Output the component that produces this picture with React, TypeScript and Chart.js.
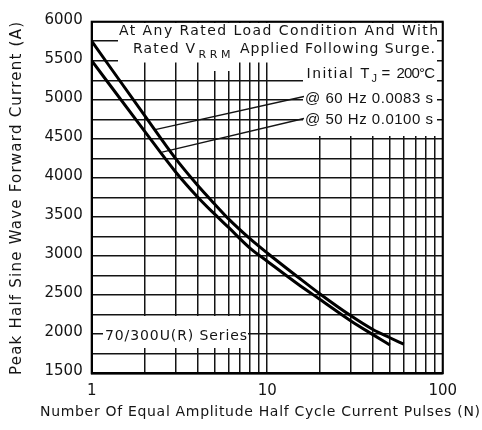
import React, { useEffect, useRef } from 'react';
import { Chart, registerables } from 'chart.js';

Chart.register(...registerables);

// ---- data ----
const pulsesN60 = [1, 2, 3, 4, 5, 6, 8, 10, 15, 20, 30, 40, 50, 60];
const current60 = [5750, 4800, 4250, 3910, 3670, 3480, 3220, 3040, 2730, 2515, 2235, 2060, 1955, 1872];
const pulsesN50 = [1, 2, 3, 4, 5, 6, 8, 10, 15, 20, 30, 40, 50];
const current50 = [5500, 4600, 4080, 3760, 3540, 3370, 3100, 2935, 2640, 2445, 2170, 1995, 1862];

const xTickValues = [1, 2, 3, 4, 5, 6, 7, 8, 9, 10, 20, 30, 40, 50, 60, 70, 80, 90, 100];
const xTickLabels = ['1', '10', '100'];
const yMin = 1500;
const yMax = 6000;
const yGridStep = 250;
const yLabelStep = 500;

const leader60 = { n: 2.3, a: 4620 };
const leader50 = { n: 2.52, a: 4330 };

const xTitle = 'Number Of Equal Amplitude Half Cycle Current Pulses (N)';
const yTitle = 'Peak Half Sine Wave Forward Current (A)';

const FAM = '"DejaVu Sans", sans-serif';
const FAM2 = '"Liberation Sans", Arial, sans-serif';
const INK = '#141414';

function drawFit(ctx: CanvasRenderingContext2D, text: string, x: number, y: number, width: number, size: number, fam: string = FAM) {
  ctx.font = `${size}px ${fam}`;
  (ctx as any).letterSpacing = '0px';
  const w = ctx.measureText(text).width;
  const n = Math.max(text.length - 1, 1);
  const ls = (width - w) / n;
  (ctx as any).letterSpacing = `${ls}px`;
  ctx.textAlign = 'left';
  ctx.textBaseline = 'alphabetic';
  ctx.fillText(text, x, y);
  (ctx as any).letterSpacing = '0px';
}

const annotPlugin = {
  id: 'annot',
  beforeDatasetsDraw(chart: any) {
    const ctx: CanvasRenderingContext2D = chart.ctx;
    const xs = chart.scales.x;
    const ys = chart.scales.y;
    ctx.save();
    // white boxes covering the grid
    ctx.fillStyle = '#ffffff';
    ctx.fillRect(118, 23, 437 - 118, 62.5 - 23);
    ctx.fillRect(199, 62, 34, 9);
    ctx.fillRect(303, 62, 134, 136 - 62);
    ctx.fillRect(103, 316, 145, 32);

    // leader lines
    ctx.strokeStyle = INK;
    ctx.lineWidth = 1.3;
    ctx.beginPath();
    ctx.moveTo(304, 96.5);
    ctx.lineTo(xs.getPixelForValue(leader60.n), ys.getPixelForValue(leader60.a));
    ctx.moveTo(304, 118.5);
    ctx.lineTo(xs.getPixelForValue(leader50.n), ys.getPixelForValue(leader50.a));
    ctx.stroke();

    ctx.fillStyle = INK;
    drawFit(ctx, 'At Any Rated Load Condition And With', 119, 35, 319, 14);
    drawFit(ctx, 'Rated V', 133, 53.3, 62, 14);
    drawFit(ctx, 'RRM', 198.5, 57.5, 32, 11);
    drawFit(ctx, 'Applied Following Surge.', 240, 53.3, 195, 14);

    drawFit(ctx, 'Initial T', 306.5, 77.5, 63, 15, FAM2);
    ctx.font = `11px ${FAM2}`;
    ctx.textAlign = 'left';
    ctx.fillText('J', 371.5, 81.5);
    ctx.font = `15px ${FAM2}`;
    ctx.fillText('=', 381.5, 77.5);
    drawFit(ctx, '200°C', 396.5, 77.5, 38.5, 15, FAM2);

    drawFit(ctx, '@ 60 Hz 0.0083 s', 305, 103.3, 128, 15, FAM2);
    drawFit(ctx, '@ 50 Hz 0.0100 s', 305, 124, 128, 15, FAM2);

    drawFit(ctx, '70/300U(R) Series', 105, 340, 142, 14);
    ctx.restore();
  },
  afterDatasetsDraw(chart: any) {
    const ctx: CanvasRenderingContext2D = chart.ctx;
    const ca = chart.chartArea;
    ctx.save();
    ctx.strokeStyle = '#000';
    ctx.lineWidth = 2;
    ctx.strokeRect(ca.left, ca.top, ca.right - ca.left, ca.bottom - ca.top);
    ctx.restore();
  },
  afterDraw(chart: any) {
    const ctx: CanvasRenderingContext2D = chart.ctx;
    ctx.save();
    ctx.fillStyle = INK;
    drawFit(ctx, xTitle, 40, 416, 440, 14);
    ctx.translate(21, 198.5);
    ctx.rotate(-Math.PI / 2);
    drawFit(ctx, yTitle, -176.5, 0, 353, 15);
    ctx.restore();
  },
};

export default function App() {
  const ref = useRef<HTMLCanvasElement | null>(null);
  useEffect(() => {
    if (!ref.current) return;
    const chart = new Chart(ref.current, {
      type: 'line',
      data: {
        datasets: [
          {
            label: '@ 60 Hz 0.0083 s',
            data: pulsesN60.map((n, i) => ({ x: n, y: current60[i] })),
            borderColor: '#000',
            borderWidth: 3,
            pointRadius: 0,
            fill: false,
            cubicInterpolationMode: 'monotone',
          },
          {
            label: '@ 50 Hz 0.0100 s',
            data: pulsesN50.map((n, i) => ({ x: n, y: current50[i] })),
            borderColor: '#000',
            borderWidth: 3,
            pointRadius: 0,
            fill: false,
            cubicInterpolationMode: 'monotone',
          },
        ],
      },
      options: {
        responsive: false,
        animation: false,
        events: [],
        layout: { padding: { top: 21.7, right: 39.3, left: 0, bottom: 0 } },
        plugins: { legend: { display: false }, tooltip: { enabled: false }, title: { display: false } },
        scales: {
          x: {
            type: 'logarithmic',
            min: 1,
            max: 100,
            afterBuildTicks: (axis: any) => {
              axis.ticks = xTickValues.map((v) => ({ value: v }));
            },
            afterFit: (scale: any) => {
              scale.height = 56.7;
            },
            ticks: {
              autoSkip: false,
              maxRotation: 0,
              padding: 9,
              color: INK,
              font: { family: FAM, size: 15 },
              callback: (v: any) => (xTickLabels.includes(String(v)) ? String(v) : ''),
            },
            grid: { color: INK, lineWidth: 1.5, drawTicks: false },
            border: { display: true, color: '#000', width: 2 },
            title: { display: false },
          },
          y: {
            type: 'linear',
            min: yMin,
            max: yMax,
            afterFit: (scale: any) => {
              scale.width = 91.7;
            },
            ticks: {
              stepSize: yGridStep,
              autoSkip: false,
              padding: 9,
              labelOffset: -2,
              color: INK,
              font: { family: FAM, size: 15 },
              callback: (v: any) => (Number(v) % yLabelStep === 0 ? String(v) : ''),
            },
            grid: { color: INK, lineWidth: 1.5, drawTicks: false },
            border: { display: true, color: '#000', width: 2 },
            title: { display: false },
          },
        },
      },
      plugins: [annotPlugin],
    } as any);
    return () => chart.destroy();
  }, []);
  return (
    <div style={{ position: 'fixed', left: 0, top: 0, width: 482, height: 430, background: '#fff' }}>
      <canvas ref={ref} width={482} height={430} style={{ display: 'block', width: 482, height: 430 }} />
    </div>
  );
}
